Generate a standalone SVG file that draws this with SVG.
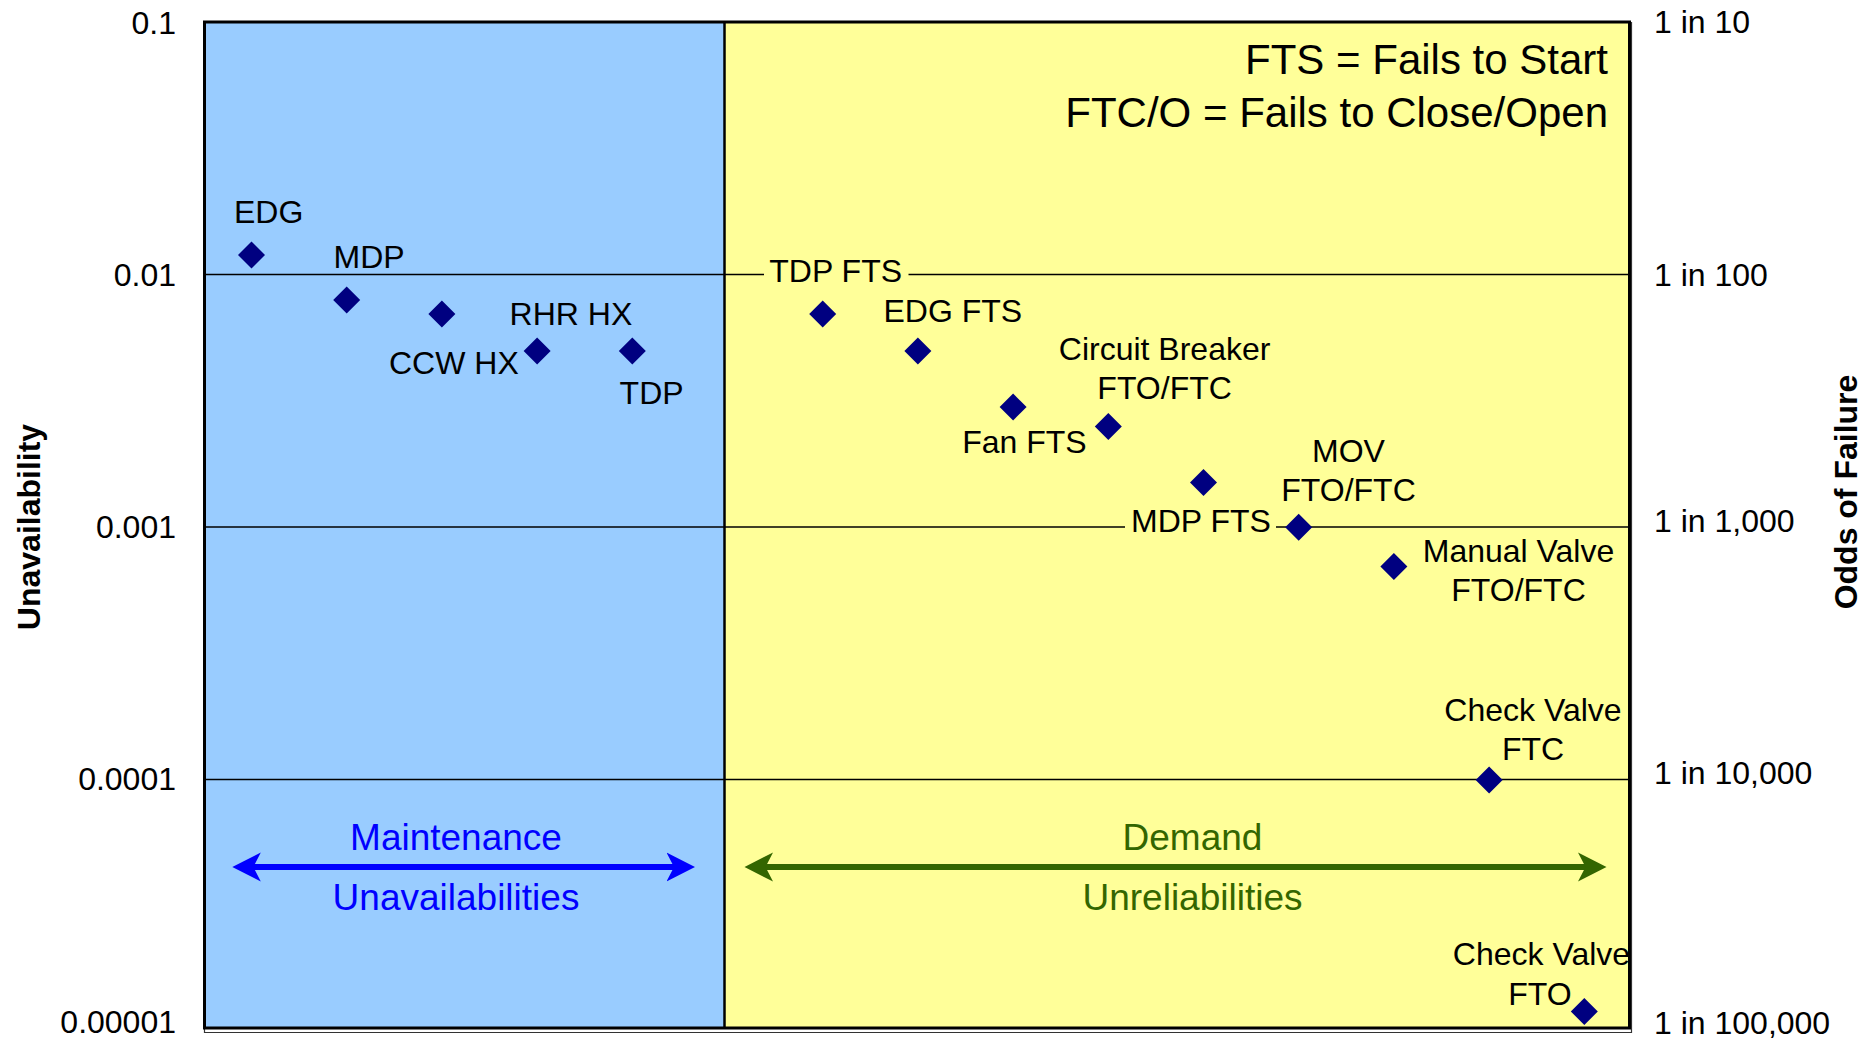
<svg xmlns="http://www.w3.org/2000/svg" width="1865" height="1042" viewBox="0 0 1865 1042">
<style>
  text { font-family: "Liberation Sans", Arial, sans-serif; }
  .tick { font-size: 32px; fill: #000; }
  .tickL { font-size: 32px; fill: #000; text-anchor: end; }
  .title { font-size: 32px; font-weight: bold; fill: #000; text-anchor: middle; }
  .lbl { font-size: 32px; fill: #000; }
  .lblc { font-size: 32px; fill: #000; text-anchor: middle; }
  .legend { font-size: 42px; fill: #000; text-anchor: end; }
  .grid { stroke: #000; stroke-width: 1.5; }
  .pt { fill: #000080; }
  .blueTxt { font-size: 37px; fill: #0000ff; text-anchor: middle; }
  .greenTxt { font-size: 37px; fill: #336600; text-anchor: middle; }
</style>
<defs>
  <path id="diamond" d="M0,-13.5 L13.5,0 L0,13.5 L-13.5,0 Z"/>
  <marker id="headBlue" viewBox="0 -15 29 30" refX="9" refY="0" markerWidth="29" markerHeight="30" markerUnits="userSpaceOnUse" orient="auto-start-reverse">
    <path d="M0,-14.5 L28.5,0 L0,14.5 L7.5,0 Z" fill="#0000ff"/>
  </marker>
  <marker id="headGreen" viewBox="0 -15 29 30" refX="9" refY="0" markerWidth="29" markerHeight="30" markerUnits="userSpaceOnUse" orient="auto-start-reverse">
    <path d="M0,-14.5 L28.5,0 L0,14.5 L7.5,0 Z" fill="#336600"/>
  </marker>
</defs>
<rect width="1865" height="1042" fill="#ffffff"/>

<!-- regions -->
<g id="regions">
  <rect x="204.5" y="22" width="520" height="1006" fill="#99ccff"/>
  <rect x="724.5" y="22" width="905" height="1006" fill="#ffff99"/>
</g>

<!-- gridlines -->
<g id="gridlines">
  <line class="grid" x1="204.5" y1="274.5" x2="1629.5" y2="274.5"/>
  <line class="grid" x1="204.5" y1="527" x2="1629.5" y2="527"/>
  <line class="grid" x1="204.5" y1="779.5" x2="1629.5" y2="779.5"/>
</g>

<!-- frame -->
<g id="frame" fill="none">
  <path d="M204.5,22 V1032.5 H1631.5 V22" stroke="#333" stroke-width="1.2"/>
  <rect x="204.5" y="22" width="1425" height="1006" stroke="#000" stroke-width="3"/>
  <line x1="724.5" y1="22" x2="724.5" y2="1028" stroke="#000" stroke-width="2.5"/>
</g>

<!-- axis labels -->
<g id="left-axis">
  <text class="tickL" x="176" y="34">0.1</text>
  <text class="tickL" x="176" y="286">0.01</text>
  <text class="tickL" x="176" y="538">0.001</text>
  <text class="tickL" x="176" y="790">0.0001</text>
  <text class="tickL" x="176" y="1033">0.00001</text>
  <text class="title" transform="translate(40,527) rotate(-90)">Unavailability</text>
</g>
<g id="right-axis">
  <text class="tick" x="1654" y="33">1 in 10</text>
  <text class="tick" x="1654" y="286">1 in 100</text>
  <text class="tick" x="1654" y="532">1 in 1,000</text>
  <text class="tick" x="1654" y="784">1 in 10,000</text>
  <text class="tick" x="1654" y="1034">1 in 100,000</text>
  <text class="title" transform="translate(1857,492) rotate(-90)">Odds of Failure</text>
</g>

<!-- legend -->
<g id="legend">
  <text class="legend" x="1608" y="74">FTS = Fails to Start</text>
  <text class="legend" x="1608" y="127">FTC/O = Fails to Close/Open</text>
</g>

<!-- region annotations with arrows (connectors) -->
<g id="connectors">
  <line x1="251.8" y1="867" x2="675.5" y2="867" stroke="#0000ff" stroke-width="6" marker-start="url(#headBlue)" marker-end="url(#headBlue)"/>
  <line x1="764" y1="867" x2="1587" y2="867" stroke="#336600" stroke-width="6" marker-start="url(#headGreen)" marker-end="url(#headGreen)"/>
</g>
<g id="maintenance-label">
  <text class="blueTxt" x="456" y="850">Maintenance</text>
  <text class="blueTxt" x="456" y="910">Unavailabilities</text>
</g>
<g id="demand-label">
  <text class="greenTxt" x="1192.5" y="850">Demand</text>
  <text class="greenTxt" x="1192.5" y="910">Unreliabilities</text>
</g>

<!-- data points -->
<g id="edg">
  <use href="#diamond" class="pt" x="251.5" y="255"/>
  <text class="lbl" x="234" y="222.5">EDG</text>
</g>
<g id="mdp">
  <use href="#diamond" class="pt" x="346.7" y="300"/>
  <text class="lbl" x="333.5" y="267.5">MDP</text>
</g>
<g id="ccw-hx">
  <use href="#diamond" class="pt" x="441.9" y="314"/>
  <text class="lbl" x="389" y="374">CCW HX</text>
</g>
<g id="rhr-hx">
  <use href="#diamond" class="pt" x="537.1" y="351"/>
  <text class="lbl" x="509.6" y="324.5">RHR HX</text>
</g>
<g id="tdp">
  <use href="#diamond" class="pt" x="632.3" y="351"/>
  <text class="lbl" x="619.6" y="404">TDP</text>
</g>
<g id="tdp-fts">
  <rect x="764" y="256" width="144.5" height="34" fill="#ffff99"/>
  <use href="#diamond" class="pt" x="822.7" y="314"/>
  <text class="lbl" x="769.3" y="282.3">TDP FTS</text>
</g>
<g id="edg-fts">
  <use href="#diamond" class="pt" x="917.9" y="351"/>
  <text class="lbl" x="883.5" y="322">EDG FTS</text>
</g>
<g id="fan-fts">
  <use href="#diamond" class="pt" x="1013.1" y="407"/>
  <text class="lbl" x="962.2" y="453.3">Fan FTS</text>
</g>
<g id="circuit-breaker">
  <use href="#diamond" class="pt" x="1108.3" y="426.5"/>
  <text class="lblc" x="1164.6" y="360">Circuit Breaker</text>
  <text class="lblc" x="1164.6" y="398.5">FTO/FTC</text>
</g>
<g id="mdp-fts">
  <rect x="1125" y="506" width="151" height="34" fill="#ffff99"/>
  <use href="#diamond" class="pt" x="1203.5" y="482.5"/>
  <text class="lbl" x="1131" y="532">MDP FTS</text>
</g>
<g id="mov">
  <use href="#diamond" class="pt" x="1298.7" y="527.3"/>
  <text class="lblc" x="1348.5" y="461.5">MOV</text>
  <text class="lblc" x="1348.5" y="500.5">FTO/FTC</text>
</g>
<g id="manual-valve">
  <use href="#diamond" class="pt" x="1393.9" y="566.5"/>
  <text class="lblc" x="1518.5" y="561.5">Manual Valve</text>
  <text class="lblc" x="1518.5" y="601">FTO/FTC</text>
</g>
<g id="check-valve-ftc">
  <use href="#diamond" class="pt" x="1489.1" y="780"/>
  <text class="lblc" x="1533" y="720.5">Check Valve</text>
  <text class="lblc" x="1533" y="760">FTC</text>
</g>
<g id="check-valve-fto">
  <use href="#diamond" class="pt" x="1584.3" y="1011.5"/>
  <text class="lblc" x="1541.5" y="965">Check Valve</text>
  <text class="lblc" x="1540" y="1005">FTO</text>
</g>
</svg>
